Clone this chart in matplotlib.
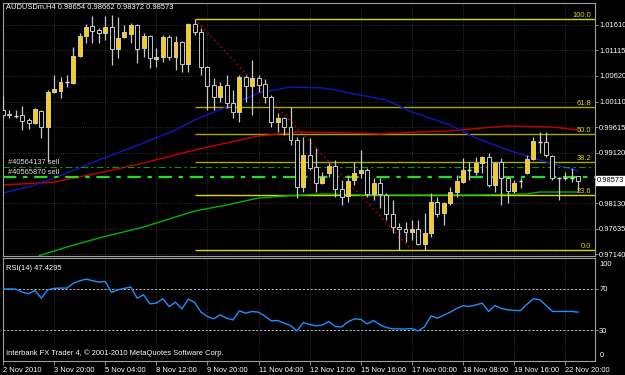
import matplotlib
matplotlib.use("Agg")
import matplotlib.pyplot as plt
import matplotlib.transforms as mtransforms
from matplotlib.patches import Rectangle

plt.rcParams["font.family"] = ["Liberation Sans", "DejaVu Sans"]

# AUDUSDm H4, bars left to right
opens = [0.99951, 0.99873, 0.99834, 0.99853, 0.99756, 0.99697, 0.99931, 0.99619, 1.00302, 1.00322,
         1.00497, 1.00478, 1.01005, 1.01395, 1.01590, 1.01512, 1.01454, 1.01571, 1.01142, 1.01376,
         1.01434, 1.01610, 1.01161, 1.01395, 1.00946, 1.00985, 1.01376, 1.00985, 1.01278, 1.00849,
         1.01630, 1.01473, 1.00790, 1.00439, 1.00205, 1.00439, 1.00087, 0.99912, 1.00595, 1.00419,
         1.00576, 1.00458, 1.00205, 0.99717, 0.99795, 0.99619, 0.99365, 0.98448, 0.99072, 0.98838,
         0.98526, 0.98721, 0.98858, 0.98409, 0.98272, 0.98584, 0.98721, 0.98780, 0.98311, 0.98526,
         0.98292, 0.97921, 0.97667, 0.97628, 0.97569, 0.97628, 0.97335, 0.97550, 0.98155, 0.97940,
         0.98135, 0.98350, 0.98545, 0.98780, 0.98741, 0.98916, 0.99033, 0.98487, 0.98936, 0.98623,
         0.98370, 0.98565, 0.98721, 0.98994, 0.99326, 0.99326, 0.99053, 0.98623, 0.98623, 0.98623,
         0.98654]
highs = [1.00224, 0.99951, 0.99951, 1.00029, 0.99795, 0.99990, 0.99951, 1.00341, 1.00634, 1.00595,
         1.00634, 1.01181, 1.01454, 1.01630, 1.01786, 1.01551, 1.01786, 1.01805, 1.01766, 1.01610,
         1.01649, 1.01630, 1.01454, 1.01415, 1.01161, 1.01415, 1.01415, 1.01395, 1.01298, 1.01649,
         1.01727, 1.01551, 1.00810, 1.00576, 1.00497, 1.00634, 1.00341, 1.00634, 1.00634, 1.00927,
         1.00634, 1.00556, 1.00244, 0.99892, 0.99814, 1.00009, 0.99424, 0.99424, 0.99404, 0.99209,
         0.98741, 0.98916, 0.98975, 0.98584, 0.98682, 0.98936, 0.99170, 0.98819, 0.98623, 0.98623,
         0.98331, 0.98194, 0.97745, 0.97765, 0.97804, 0.97804, 0.97940, 0.98331, 0.98253, 0.98155,
         0.98448, 0.98682, 0.99014, 0.98936, 0.99033, 0.99053, 0.99111, 0.98936, 0.99014, 0.98643,
         0.98584, 0.98623, 0.99072, 0.99424, 0.99521, 0.99521, 0.99072, 0.98643, 0.98741, 0.98819,
         0.98662]
lows = [0.99814, 0.99795, 0.99795, 0.99560, 0.99580, 0.99680, 0.99404, 0.98936, 1.00283, 1.00185,
        1.00400, 1.00460, 1.00985, 1.01259, 1.01259, 1.01259, 1.01317, 1.00829, 1.00966, 1.01356,
        1.01259, 1.00868, 1.00985, 1.00771, 1.00790, 1.00888, 1.00927, 1.00732, 1.00693, 1.00693,
        1.01415, 1.00634, 0.99951, 0.99951, 1.00107, 0.99990, 0.99795, 0.99717, 1.00107, 0.99853,
        1.00302, 1.00087, 0.99619, 0.99521, 0.99463, 0.99268, 0.98233, 0.98350, 0.98780, 0.98350,
        0.98510, 0.98643, 0.98253, 0.98096, 0.98155, 0.98487, 0.98623, 0.98253, 0.98194, 0.98038,
        0.97804, 0.97550, 0.97218, 0.97374, 0.97413, 0.97316, 0.97218, 0.97472, 0.97862, 0.97706,
        0.98096, 0.98253, 0.98526, 0.98584, 0.98682, 0.98721, 0.98448, 0.98350, 0.98096, 0.98135,
        0.98331, 0.98428, 0.98700, 0.98975, 0.99111, 0.99033, 0.98584, 0.98194, 0.98584, 0.98545,
        0.98372]
closes = [0.99853, 0.99853, 0.99834, 0.99736, 0.99697, 0.99970, 0.99619, 1.00302, 1.00361, 1.00497,
          1.00497, 1.01005, 1.01395, 1.01571, 1.01493, 1.01454, 1.01571, 1.01142, 1.01356, 1.01473,
          1.01610, 1.01142, 1.01395, 1.00966, 1.00985, 1.01376, 1.00985, 1.01278, 1.00849, 1.01630,
          1.01473, 1.00790, 1.00419, 1.00205, 1.00419, 1.00087, 0.99912, 1.00595, 1.00419, 1.00576,
          1.00439, 1.00205, 0.99717, 0.99795, 0.99619, 0.99365, 0.98448, 0.99072, 0.98819, 0.98526,
          0.98643, 0.98858, 0.98409, 0.98253, 0.98565, 0.98721, 0.98780, 0.98311, 0.98526, 0.98311,
          0.97921, 0.97667, 0.97628, 0.97569, 0.97628, 0.97335, 0.97550, 0.98155, 0.97921, 0.98135,
          0.98350, 0.98565, 0.98780, 0.98780, 0.98916, 0.99033, 0.98487, 0.98916, 0.98623, 0.98370,
          0.98526, 0.98565, 0.98994, 0.99346, 0.99326, 0.99072, 0.98623, 0.98623, 0.98623, 0.98623,
          0.98573]

rsi = [69.8, 70.0, 69.8, 66.9, 65.3, 68.5, 61.0, 69.2, 70.5, 70.8,
       70.8, 75.5, 77.8, 79.5, 78.0, 76.6, 77.3, 66.6, 69.2, 70.5,
       71.8, 61.0, 64.3, 55.5, 56.2, 60.4, 52.9, 57.1, 50.6, 60.1,
       56.8, 47.4, 43.2, 41.0, 44.8, 41.5, 39.9, 48.7, 46.4, 48.1,
       47.4, 43.5, 39.0, 39.3, 36.7, 34.5, 29.2, 37.3, 35.5, 34.1,
       35.0, 38.3, 33.4, 33.1, 38.0, 40.9, 40.5, 36.0, 39.3, 35.1,
       32.5, 31.2, 31.2, 31.0, 31.5, 29.2, 33.4, 43.8, 41.6, 44.5,
       47.4, 51.0, 53.6, 52.9, 54.5, 56.2, 48.1, 53.9, 51.0, 49.7,
       49.0, 49.0, 55.0, 60.4, 59.5, 54.0, 48.1, 48.1, 48.1, 48.1,
       47.4295]

# moving averages, read at some bars
blue_idx = [0, 5, 10, 15, 22, 27, 30, 35, 40, 45, 50, 52, 55, 60, 64, 70, 74, 79, 84, 90]
blue_val = [0.98331, 0.98487, 0.98721, 0.98975, 0.99307, 0.99560, 0.99756, 1.00009, 1.00283, 1.00400,
            1.00380, 1.00341, 1.00263, 1.00146, 0.99912, 0.99658, 0.99404, 0.99170, 0.98975, 0.98760]
red_idx = [0, 8, 15, 22, 30, 35, 40, 46, 54, 59, 65, 70, 75, 79, 86, 90]
red_val = [0.98487, 0.98545, 0.98721, 0.98916, 0.99170, 0.99307, 0.99443, 0.99521, 0.99502, 0.99482,
           0.99521, 0.99541, 0.99599, 0.99638, 0.99619, 0.99560]
green_idx = [0, 6, 10, 15, 22, 30, 35, 40, 44, 50, 57, 64, 74, 82, 84, 90]
green_val = [0.9680, 0.97120, 0.97277, 0.97452, 0.97667, 0.97979, 0.98096, 0.98233, 0.98272, 0.98311,
             0.98292, 0.98292, 0.98292, 0.98311, 0.98350, 0.98350]

# fibo retracement
fib_high, fib_low = 1.01727, 0.97218
fib_start, fib_end = 30, 64
fib_levels = [0.0, 23.6, 38.2, 50.0, 61.8, 100.0]

orders = [("#40564137 sell", 0.98840), ("#40565870 sell", 0.98645)]

price_ticks = [1.01610, 1.01115, 1.00620, 1.00110, 0.99615, 0.99120, 0.98130, 0.97635, 0.97140]
time_pos = [0, 8, 16, 24, 32, 40, 48, 56, 64, 72, 80, 88]
time_labels = ["2 Nov 2010", "3 Nov 20:00", "5 Nov 04:00", "8 Nov 12:00", "9 Nov 20:00",
               "11 Nov 04:00", "12 Nov 12:00", "15 Nov 16:00", "17 Nov 00:00", "18 Nov 08:00",
               "19 Nov 16:00", "22 Nov 20:00"]

W, H = 625, 375
fig = plt.figure(figsize=(6.25, 3.75), dpi=100, facecolor="black")
ax = fig.add_axes([3 / W, 1 - 256 / H, 592 / W, 253 / H])
axr = fig.add_axes([3 / W, 1 - 361 / H, 592 / W, 103 / H])

fs = 5.4
for a in (ax, axr):
    a.set_facecolor("black")
    for s in a.spines.values():
        s.set_color("#a0a0a0")
        s.set_linewidth(0.8)
    a.set_xlim(0.16, 92.66)
    a.set_xticks(time_pos)
    a.grid(True, color="#3c3c3c", linestyle=":", linewidth=0.6)
    a.set_axisbelow(True)
    a.yaxis.tick_right()
    a.tick_params(axis="y", colors="#a0a0a0", labelcolor="white", labelsize=fs,
                  length=2, width=0.6, pad=1)

ax.set_ylim(0.97101, 1.02039)
ax.set_yticks(price_ticks)
ax.set_yticklabels(["%.5f" % p for p in price_ticks])
ax.tick_params(axis="x", length=0, labelbottom=False)

# fibo
blend = mtransforms.blended_transform_factory(ax.transAxes, ax.transData)
for lv in fib_levels:
    p = fib_low + (fib_high - fib_low) * lv / 100.0
    col = "#d8d800" if lv in (0.0, 100.0, 23.6) else "#a8a800"
    ax.hlines(p, fib_start, 95, color=col, linewidth=1.0, zorder=2)
    ax.text(0.994, p, "%.1f" % lv, transform=blend, ha="right", va="bottom",
            color="#d8d800", fontsize=fs, zorder=6)
ax.plot([fib_start, fib_end], [fib_high, fib_low], color="#c00000", linestyle=(0, (1.2, 2.2)),
        linewidth=1.0, zorder=2)

# moving averages
ax.plot(green_idx, green_val, color="#00b400", linewidth=1.0, zorder=2.5)
ax.plot(red_idx, red_val, color="#c80000", linewidth=1.0, zorder=2.5)
ax.plot(blue_idx, blue_val, color="#1414c0", linewidth=1.0, zorder=2.5)

# order lines
ax.axhline(orders[0][1], color="#00a000", linewidth=0.8, dashes=(6, 3, 2, 3), zorder=2.6)
ax.axhline(orders[1][1], color="#22dd22", linewidth=1.6, dashes=(6, 3, 2, 3), zorder=2.6)
for name, p in orders:
    ax.annotate(name, xy=(0.008, p), xycoords=blend, xytext=(0, 0.8),
                textcoords="offset points", ha="left", va="bottom",
                color="#e0e0e0", fontsize=fs, zorder=6)

# candles
bw = 0.62
for i in range(len(opens)):
    o, h, l, c = opens[i], highs[i], lows[i], closes[i]
    ax.vlines(i, l, h, color="#c8c8c8", linewidth=0.9, zorder=3)
    if c == o:
        ax.hlines(o, i - bw / 2, i + bw / 2, color="#e0e0e0", linewidth=1.0, zorder=4)
    else:
        fc = "#ffcc00" if c > o else "black"
        ax.add_patch(Rectangle((i - bw / 2, min(o, c)), bw, abs(c - o), facecolor=fc,
                               edgecolor="#c8c8c8", linewidth=0.7, zorder=4))

# current price box
ax.text(1.0035, closes[-1], "%.5f" % closes[-1], transform=blend, ha="left", va="center",
        color="black", fontsize=fs, clip_on=False, zorder=7,
        bbox=dict(boxstyle="square,pad=0.12", facecolor="white", edgecolor="white"))

fig.text(6 / W, 1 - 7 / H, "AUDUSDm,H4 %.5f %.5f %.5f %.5f" % (opens[-1], highs[-1], lows[-1], closes[-1]),
         color="white", fontsize=fs, ha="left", va="center")

# RSI pane
axr.set_ylim(0, 100)
axr.plot(range(len(rsi)), rsi, color="#1e90ff", linewidth=1.0, zorder=3)
for lvl in (70, 30):
    axr.axhline(lvl, color="#c0c0c0", linestyle=(0, (2, 2)), linewidth=0.7, zorder=2)
axr.set_yticks([70, 30])
axr.set_yticklabels(["70", "30"])
axr.text(1.008, 0.94, "100", transform=axr.transAxes, color="white", fontsize=fs, va="center")
axr.text(1.008, 0.05, "0", transform=axr.transAxes, color="white", fontsize=fs, va="center")
axr.text(0.005, 0.9, "RSI(14) %.4f" % rsi[-1], transform=axr.transAxes, color="white",
         fontsize=fs, va="center")
axr.text(0.005, 0.08, "Interbank FX Trader 4, \u00a9 2001-2010 MetaQuotes Software Corp.",
         transform=axr.transAxes, color="white", fontsize=fs, va="center")
axr.set_xticklabels(time_labels, ha="left")
axr.tick_params(axis="x", colors="#a0a0a0", labelcolor="white", labelsize=fs, length=3,
                width=0.6, pad=1.5)

fig.savefig("out.png", dpi=100, facecolor="black")
